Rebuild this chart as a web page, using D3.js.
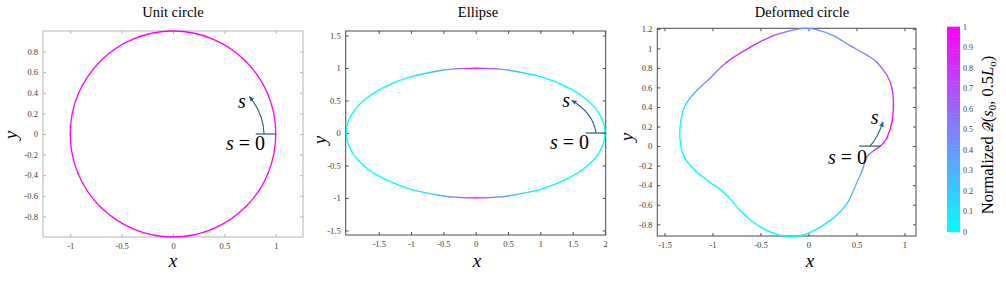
<!DOCTYPE html>
<html>
<head>
<meta charset="utf-8">
<title>Curves</title>
<script src="https://d3js.org/d3.v7.min.js"></script>
<style>
  body { margin: 0; background: #fff; }
  text { font-family: "Liberation Serif", "Times New Roman", serif; }
</style>
</head>
<body>
<div id="chart"></div>
<script>
// unit circle (q is the normalized colour value)
const circleX = [1, 0.924, 0.707, 0.383, 0, -0.383, -0.707, -0.924, -1, -0.924, -0.707, -0.383, 0, 0.383, 0.707, 0.924];
const circleY = [0, 0.383, 0.707, 0.924, 1, 0.924, 0.707, 0.383, 0, -0.383, -0.707, -0.924, -1, -0.924, -0.707, -0.383];
const circleQ = [1, 1, 1, 1, 1, 1, 1, 1, 1, 1, 1, 1, 1, 1, 1, 1];

// ellipse
const ellipseX = [2, 1.932, 1.732, 1.414, 1, 0.518, 0.261, 0, -0.261, -0.518, -1, -1.414, -1.732, -1.932,
                  -2, -1.932, -1.732, -1.414, -1, -0.518, -0.261, 0, 0.261, 0.518, 1, 1.414, 1.732, 1.932];
const ellipseY = [0, 0.259, 0.5, 0.707, 0.866, 0.966, 0.991, 1, 0.991, 0.966, 0.866, 0.707, 0.5, 0.259,
                  0, -0.259, -0.5, -0.707, -0.866, -0.966, -0.991, -1, -0.991, -0.966, -0.866, -0.707, -0.5, -0.259];
const ellipseQ = [0, 0, 0, 0, 0.02, 0.3, 0.6, 1, 0.6, 0.3, 0.02, 0, 0, 0,
                  0, 0, 0, 0, 0.02, 0.3, 0.6, 1, 0.6, 0.3, 0.02, 0, 0, 0];

// deformed circle, starting at s = 0 and going counter-clockwise
const deformedX = [0.75, 0.82, 0.87, 0.885, 0.87, 0.82, 0.71, 0.61, 0.43, 0.26, 0.09, -0.05, -0.19, -0.40,
                   -0.61, -0.85, -1.02, -1.20, -1.30, -1.34, -1.33, -1.29, -1.18, -1.04, -0.90, -0.79,
                   -0.66, -0.48, -0.30, -0.17, 0.00, 0.23, 0.40, 0.50, 0.56, 0.61, 0.69];
const deformedY = [0, 0.09, 0.25, 0.42, 0.59, 0.72, 0.86, 0.93, 1.03, 1.13, 1.19, 1.205, 1.18, 1.115,
                   1.01, 0.86, 0.70, 0.53, 0.38, 0.17, 0.00, -0.12, -0.25, -0.36, -0.46, -0.57,
                   -0.71, -0.84, -0.91, -0.925, -0.89, -0.76, -0.59, -0.38, -0.25, -0.11, -0.04];
const deformedQ = [0.95, 1, 1, 1, 0.82, 0.72, 0.6, 0.55, 0.47, 0.42, 0.4, 0.42, 0.55, 0.8,
                   0.92, 0.78, 0.55, 0.3, 0.1, 0.02, 0, 0, 0, 0, 0, 0,
                   0, 0, 0, 0, 0.02, 0.08, 0.2, 0.3, 0.35, 0.45, 0.7];

// tick labels
const ticksX1 = [-1, -0.5, 0, 0.5, 1];
const ticksY1 = [-0.8, -0.6, -0.4, -0.2, 0, 0.2, 0.4, 0.6, 0.8];
const ticksX2 = [-1.5, -1, -0.5, 0, 0.5, 1, 1.5, 2];
const ticksY2 = [-1.5, -1, -0.5, 0, 0.5, 1, 1.5];
const ticksX3 = [-1.5, -1, -0.5, 0, 0.5, 1];
const ticksY3 = [-0.8, -0.6, -0.4, -0.2, 0, 0.2, 0.4, 0.6, 0.8, 1, 1.2];
const colorbarTicks = [0, 0.1, 0.2, 0.3, 0.4, 0.5, 0.6, 0.7, 0.8, 0.9, 1];

const W = 1006, H = 282;
const svg = d3.select("#chart").append("svg").attr("width", W).attr("height", H);
const defs = svg.append("defs");

const color = d3.scaleLinear().domain([0, 1]).range(["#00ffff", "#ff00ff"]).interpolate(d3.interpolateRgb);
const fmt = d => String(d);
const arrowColor = "#20607f";

defs.append("marker").attr("id", "arr").attr("viewBox", "0 0 10 10")
  .attr("refX", 8).attr("refY", 5).attr("markerWidth", 5).attr("markerHeight", 5)
  .attr("orient", "auto")
  .append("path").attr("d", "M0,1 L10,5 L0,9 z").attr("fill", arrowColor);

let gradId = 0;

function panel(o) {
  const x = d3.scaleLinear().domain(o.xd).range([o.l, o.r]);
  const y = d3.scaleLinear().domain(o.yd).range([o.b, o.t]);
  const g = svg.append("g");

  // ticks, inward on all four sides
  const tickStyle = sel => {
    sel.select(".domain").remove();
    sel.selectAll("line").attr("stroke", o.frame);
    sel.selectAll("text").attr("fill", "#3a3a3a").style("font-size", "8.5px")
      .style("font-family", "'Liberation Serif', serif");
  };
  g.append("g").attr("transform", `translate(0,${o.b})`)
    .call(d3.axisBottom(x).tickValues(o.tx).tickSize(-3).tickPadding(6).tickFormat(fmt)).call(tickStyle);
  g.append("g").attr("transform", `translate(0,${o.t})`)
    .call(d3.axisTop(x).tickValues(o.tx).tickSize(-3).tickFormat("")).call(tickStyle);
  g.append("g").attr("transform", `translate(${o.l},0)`)
    .call(d3.axisLeft(y).tickValues(o.ty).tickSize(-3).tickPadding(5).tickFormat(fmt)).call(tickStyle);
  g.append("g").attr("transform", `translate(${o.r},0)`)
    .call(d3.axisRight(y).tickValues(o.ty).tickSize(-3).tickFormat("")).call(tickStyle);

  g.append("rect").attr("x", o.l).attr("y", o.t).attr("width", o.r - o.l).attr("height", o.b - o.t)
    .attr("fill", "none").attr("stroke", o.frame).attr("stroke-width", 1);

  // closed curve as Catmull-Rom pieces, each with its own gradient
  const pts = o.xs.map((v, i) => [x(v), y(o.ys[i]), o.qs[i]]);
  const n = pts.length;
  for (let i = 0; i < n; i++) {
    const p0 = pts[(i - 1 + n) % n], p1 = pts[i], p2 = pts[(i + 1) % n], p3 = pts[(i + 2) % n];
    const c1 = [p1[0] + (p2[0] - p0[0]) / 6, p1[1] + (p2[1] - p0[1]) / 6];
    const c2 = [p2[0] - (p3[0] - p1[0]) / 6, p2[1] - (p3[1] - p1[1]) / 6];
    const id = "g" + (gradId++);
    const lg = defs.append("linearGradient").attr("id", id).attr("gradientUnits", "userSpaceOnUse")
      .attr("x1", p1[0]).attr("y1", p1[1]).attr("x2", p2[0]).attr("y2", p2[1]);
    lg.append("stop").attr("offset", 0).attr("stop-color", color(p1[2]));
    lg.append("stop").attr("offset", 1).attr("stop-color", color(p2[2]));
    const p = d3.path();
    p.moveTo(p1[0], p1[1]);
    p.bezierCurveTo(c1[0], c1[1], c2[0], c2[1], p2[0], p2[1]);
    g.append("path").attr("d", p.toString()).attr("fill", "none")
      .attr("stroke", `url(#${id})`).attr("stroke-width", 1.3).attr("stroke-linecap", "round");
  }

  // s annotation
  const a = o.ann;
  g.append("line").attr("x1", x(a.x0)).attr("x2", x(a.x1)).attr("y1", y(0)).attr("y2", y(0))
    .attr("stroke", arrowColor).attr("stroke-width", 1.2);
  const ap = d3.path();
  ap.moveTo(x(a.sx), y(0));
  ap.quadraticCurveTo(x(a.cx), y(a.cy), x(a.ex), y(a.ey));
  g.append("path").attr("d", ap.toString()).attr("fill", "none").attr("stroke", arrowColor)
    .attr("stroke-width", 1.1).attr("marker-end", "url(#arr)");
  g.append("text").attr("x", x(a.lx)).attr("y", y(a.ly)).attr("text-anchor", "middle")
    .style("font-size", "20px").style("font-style", "italic").text("s");
  const t0 = g.append("text").attr("x", a.zx).attr("y", a.zy).attr("text-anchor", "end")
    .style("font-size", "20px");
  t0.append("tspan").style("font-style", "italic").text("s");
  t0.append("tspan").attr("dx", 5).text("=");
  t0.append("tspan").attr("dx", 5).text("0");

  // titles and axis names
  svg.append("text").attr("x", o.tt).attr("y", 17).attr("text-anchor", "middle")
    .style("font-size", "14.5px").text(o.title);
  svg.append("text").attr("x", o.xl).attr("y", 267).attr("text-anchor", "middle")
    .style("font-size", "19px").style("font-style", "italic").text("x");
  svg.append("text").attr("transform", `translate(${o.yl[0]},${o.yl[1]}) rotate(-90)`)
    .attr("text-anchor", "middle").style("font-size", "19px").style("font-style", "italic").text("y");
}

panel({
  title: "Unit circle", tt: 173, xl: 173, yl: [17, 135], frame: "#b4b4b4",
  l: 43, r: 303, t: 31, b: 237, xd: [-1.265, 1.265], yd: [-1, 1], tx: ticksX1, ty: ticksY1,
  xs: circleX, ys: circleY, qs: circleQ,
  ann: { x0: 0.805, x1: 1.0, sx: 0.886, cx: 0.88, cy: 0.2, ex: 0.745, ey: 0.36, lx: 0.67, ly: 0.25, zx: 265, zy: 150 }
});
panel({
  title: "Ellipse", tt: 478, xl: 477, yl: [326, 140], frame: "#4a4a4a",
  l: 345.7, r: 605.7, t: 31, b: 235, xd: [-2.01, 2.01], yd: [-1.57, 1.57], tx: ticksX2, ty: ticksY2,
  xs: ellipseX, ys: ellipseY, qs: ellipseQ,
  ann: { x0: 1.7, x1: 2.02, sx: 1.86, cx: 1.82, cy: 0.3, ex: 1.49, ey: 0.5, lx: 1.4, ly: 0.4, zx: 589, zy: 149 }
});
panel({
  title: "Deformed circle", tt: 802, xl: 810, yl: [633, 137], frame: "#4a4a4a",
  l: 657.3, r: 916, t: 28.3, b: 236, xd: [-1.575, 1.12], yd: [-0.92, 1.205], tx: ticksX3, ty: ticksY3,
  xs: deformedX, ys: deformedY, qs: deformedQ,
  ann: { x0: 0.53, x1: 0.75, sx: 0.64, cx: 0.72, cy: 0.08, ex: 0.775, ey: 0.245, lx: 0.69, ly: 0.23, zx: 867, zy: 164 }
});

// colour bar
const cb = { l: 947, r: 960, t: 26.7, b: 231.7 };
const cy = d3.scaleLinear().domain([0, 1]).range([cb.b, cb.t]);
const bands = d3.range(64).map(i => i / 64);
svg.append("g").selectAll("rect").data(bands).join("rect")
  .attr("x", cb.l).attr("width", cb.r - cb.l)
  .attr("y", d => cy(d + 1 / 64)).attr("height", (cb.b - cb.t) / 64 + 0.5)
  .attr("fill", d => color(d + 0.5 / 64));
const cbAxis = svg.append("g").attr("transform", `translate(${cb.r},0)`)
  .call(d3.axisRight(cy).tickValues(colorbarTicks).tickSize(-2).tickPadding(3).tickFormat(fmt));
cbAxis.select(".domain").remove();
cbAxis.selectAll("line").attr("stroke", "#888").attr("stroke-opacity", 0.4);
cbAxis.selectAll("text").attr("fill", "#3a3a3a").style("font-size", "8px")
  .style("font-family", "'Liberation Serif', serif");

const cl = svg.append("text").attr("transform", "translate(993,135) rotate(-90)")
  .attr("text-anchor", "middle").style("font-size", "16.5px");
cl.append("tspan").text("Normalized ");
cl.append("tspan").style("font-family", "'DejaVu Serif', 'DejaVu Sans', serif").style("font-size", "14px").text("𝒬");
cl.append("tspan").text("(");
cl.append("tspan").style("font-style", "italic").text("s");
cl.append("tspan").attr("dy", 3).style("font-size", "11px").text("0");
cl.append("tspan").attr("dy", -3).text(", 0.5");
cl.append("tspan").style("font-style", "italic").text("L");
cl.append("tspan").attr("dy", 3).style("font-size", "11px").text("o");
cl.append("tspan").attr("dy", -3).text(")");
</script>
</body>
</html>
